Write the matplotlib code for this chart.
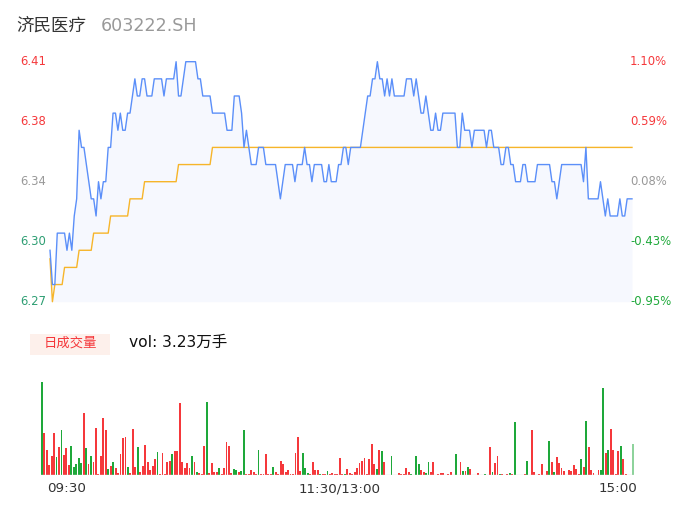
import matplotlib
matplotlib.use('Agg')
import matplotlib.pyplot as plt
import numpy as np

# fonts: latin in DejaVu, chinese from Noto CJK
plt.rcParams['font.family'] = ['DejaVu Sans', 'Noto Sans CJK SC']

W, H = 686, 524

stock_name = '济民医疗'
stock_code = '603222.SH'
vol_title = '日成交量'
vol_text = 'vol: 3.23万手'
time_labels = ['09:30', '11:30/13:00', '15:00']

price_ticks = [6.41, 6.375, 6.34, 6.305, 6.27]
price_labels = ['6.41', '6.38', '6.34', '6.30', '6.27']
pct_labels = ['1.10%', '0.59%', '0.08%', '-0.43%', '-0.95%']

# minute prices 09:30 .. 15:00 (241 points)
price = [
    6.30, 6.28, 6.28, 6.31, 6.31, 6.31, 6.31, 6.30, 6.31, 6.30,
    6.32, 6.33, 6.37, 6.36, 6.36, 6.35, 6.34, 6.33, 6.33, 6.32,
    6.34, 6.33, 6.34, 6.34, 6.36, 6.36, 6.38, 6.38, 6.37, 6.38,
    6.37, 6.37, 6.38, 6.38, 6.39, 6.40, 6.39, 6.39, 6.40, 6.40,
    6.39, 6.39, 6.39, 6.40, 6.40, 6.40, 6.40, 6.39, 6.40, 6.40,
    6.40, 6.40, 6.41, 6.39, 6.39, 6.40, 6.41, 6.41, 6.41, 6.41,
    6.41, 6.40, 6.40, 6.39, 6.39, 6.39, 6.39, 6.38, 6.38, 6.38,
    6.38, 6.38, 6.38, 6.37, 6.37, 6.37, 6.39, 6.39, 6.39, 6.38,
    6.36, 6.37, 6.36, 6.35, 6.35, 6.35, 6.36, 6.36, 6.36, 6.35,
    6.35, 6.35, 6.35, 6.35, 6.34, 6.33, 6.34, 6.35, 6.35, 6.35,
    6.35, 6.34, 6.35, 6.35, 6.35, 6.36, 6.35, 6.35, 6.34, 6.35,
    6.35, 6.35, 6.35, 6.34, 6.34, 6.35, 6.34, 6.34, 6.34, 6.35,
    6.35, 6.36, 6.36, 6.35, 6.36, 6.36, 6.36, 6.36, 6.36, 6.37,
    6.38, 6.39, 6.39, 6.40, 6.40, 6.41, 6.40, 6.40, 6.39, 6.40,
    6.39, 6.40, 6.39, 6.39, 6.39, 6.39, 6.39, 6.40, 6.40, 6.40,
    6.39, 6.40, 6.39, 6.38, 6.38, 6.39, 6.38, 6.37, 6.37, 6.38,
    6.37, 6.37, 6.38, 6.38, 6.38, 6.38, 6.38, 6.38, 6.36, 6.36,
    6.38, 6.37, 6.37, 6.37, 6.36, 6.37, 6.37, 6.37, 6.37, 6.37,
    6.36, 6.37, 6.37, 6.36, 6.36, 6.36, 6.35, 6.35, 6.36, 6.36,
    6.35, 6.35, 6.34, 6.34, 6.34, 6.35, 6.35, 6.34, 6.34, 6.34,
    6.34, 6.35, 6.35, 6.35, 6.35, 6.35, 6.35, 6.34, 6.34, 6.33,
    6.34, 6.35, 6.35, 6.35, 6.35, 6.35, 6.35, 6.35, 6.35, 6.35,
    6.34, 6.36, 6.33, 6.33, 6.33, 6.33, 6.33, 6.34, 6.33, 6.32,
    6.33, 6.32, 6.32, 6.32, 6.32, 6.33, 6.32, 6.32, 6.33, 6.33,
    6.33,
]

# average price line, as levels and how many minutes each lasts
avg_levels = [6.295, 6.27, 6.28, 6.29, 6.30, 6.31, 6.32, 6.33, 6.34, 6.35, 6.36]
avg_runs = [1, 1, 4, 6, 6, 7, 8, 6, 14, 14, 174]

# minute volume (relative) and direction r=up g=down
volume = [
    93, 42, 25, 10, 19, 42, 18, 28, 45, 20,
    27, 10, 29, 8, 11, 17, 12, 62, 27, 11,
    19, 13, 47, 1, 19, 57, 45, 6, 9, 13,
    7, 2, 21, 37, 38, 8, 2, 46, 8, 28,
    3, 9, 30, 13, 5, 9, 16, 23, 1, 22,
    1, 13, 14, 21, 24, 24, 72, 13, 7, 12,
    7, 19, 13, 3, 2, 1, 29, 73, 2, 12,
    3, 3, 7, 1, 7, 33, 29, 2, 6, 5,
    3, 4, 45, 1, 1, 5, 3, 1, 25, 1,
    1, 21, 1, 1, 8, 3, 1, 14, 11, 3,
    5, 1, 1, 22, 38, 4, 22, 7, 2, 1,
    13, 5, 5, 1, 1, 1, 4, 1, 2, 1,
    1, 17, 1, 1, 6, 2, 1, 3, 7, 12,
    14, 17, 1, 16, 31, 11, 6, 25, 24, 13,
    0, 0, 19, 0, 0, 2, 1, 1, 7, 3,
    1, 0, 19, 11, 5, 3, 2, 13, 3, 13,
    0, 1, 2, 2, 0, 1, 3, 0, 21, 0,
    13, 4, 4, 8, 6, 0, 0, 2, 0, 0,
    1, 0, 28, 3, 12, 19, 1, 1, 0, 1,
    2, 1, 53, 0, 0, 0, 1, 14, 0, 45,
    3, 0, 1, 11, 0, 4, 34, 13, 3, 18,
    12, 7, 4, 0, 5, 4, 10, 6, 1, 16,
    8, 54, 28, 5, 2, 0, 5, 5, 87, 22,
    25, 46, 25, 1, 24, 29, 16, 1, 0, 0,
    31,
]
vol_dir = ('grrrrrgrgr' 'rrgggggrgr' 'grrrrrrgrg' 'rrrrrgrrrg' 'rrrrrrrgrr'
           'rrrgrrrrrr' 'rgrgrrrgrr' 'rrgrrrrrgg' 'rggrrrrrgr' 'rrrrgrrrrr'
           'rrrrrrgggr' 'rrrgrrgrrr' 'rrrgrrrrrr' 'rrrrrrgrgr' 'rrgrrrrrrr'
           'grggrrggrr' 'rrrrrrrrgr' 'rgrgrrrrrr' 'grrgrrgrrr' 'grgrrrrgrr'
           'rrrrrrgrgr' 'rrrrrrrrrg' 'rgrrrrrggr' 'grrrrgrrrr' 'g')

avg_price = np.repeat(avg_levels, avg_runs)
minutes = np.arange(len(price))

RED = '#f5383b'
GREEN = '#1ea83a'
BLUE = '#5b8ff9'
YELLOW = '#f6b52a'


def fx(x):
    return x / W


def fy(y):
    return 1 - y / H


fig = plt.figure(figsize=(W / 100, H / 100), dpi=100)

# title
fig.text(fx(16), fy(26), stock_name, fontsize=12.6, color='#333333', va='center', ha='left')
fig.text(fx(101), fy(26), stock_code, fontsize=12.6, color='#999999', va='center', ha='left')

# price panel
ax = fig.add_axes([fx(50), fy(301.7), fx(632) - fx(50), fy(61.7) - fy(301.7)])
ax.fill_between(minutes, price, 6.27, color='#f6f8fe', lw=0)
ax.plot(minutes, avg_price, color=YELLOW, lw=1.0, clip_on=False)
ax.plot(minutes, price, color=BLUE, lw=1.0, clip_on=False)
ax.set_xlim(0, 240)
ax.set_ylim(6.27, 6.41)
ax.axis('off')

left_cols = [RED, RED, '#999999', '#2e9e73', '#2e9e73']
right_cols = [RED, RED, '#999999', GREEN, GREEN]
tr = ax.get_yaxis_transform()
for p, lab, pct, lc, rc in zip(price_ticks, price_labels, pct_labels, left_cols, right_cols):
    ax.text(-30 / 582, p, lab, transform=tr, fontsize=8.4, color=lc, ha='left', va='center')
    ax.text(580 / 582, p, pct, transform=tr, fontsize=8.4, color=rc, ha='left', va='center')

# volume header
fig.patches.append(plt.Rectangle((fx(30), fy(354.5)), fx(110) - fx(30), fy(333.5) - fy(354.5),
                                 transform=fig.transFigure, color='#fdf0eb', lw=0))
fig.text(fx(70), fy(343), vol_title, fontsize=9.6, color=RED, ha='center', va='center')
fig.text(fx(129), fy(342), vol_text, fontsize=11.2, color='#111111', ha='left', va='center')

# volume panel
vax = fig.add_axes([fx(40.5), fy(475), fx(634.2) - fx(40.5), fy(382) - fy(475)])
cols = [RED if d == 'r' else GREEN for d in vol_dir]
bars = vax.bar(minutes, volume, width=0.76, color=cols, lw=0)
bars[-1].set_alpha(0.5)
vax.axhline(0, color='#dddddd', lw=1)
vax.set_xlim(-0.5, 240.5)
vax.set_ylim(0, max(volume))
vax.axis('off')

# time axis labels
fig.text(fx(47), fy(489), time_labels[0], fontsize=9.7, color='#333333', ha='left', va='center')
fig.text(fx(340), fy(489), time_labels[1], fontsize=9.7, color='#333333', ha='center', va='center')
fig.text(fx(637), fy(489), time_labels[2], fontsize=9.7, color='#333333', ha='right', va='center')

fig.savefig('out.png', dpi=100)
